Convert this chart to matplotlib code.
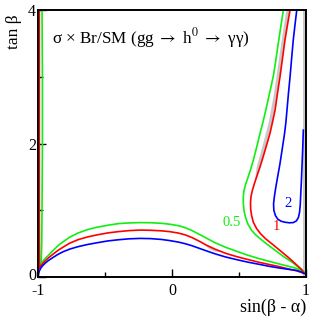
import matplotlib
matplotlib.use("Agg")
import matplotlib.pyplot as plt
from matplotlib.transforms import ScaledTranslation

# contour lines of sigma x Br / SM, digitised as (sin(beta-alpha), tan beta)
# 0.5 contour: down the left edge, across the bottom, back up on the right
green_x = [-0.970, -0.967, -0.967, -0.970, -0.972, -0.975, -0.977,
           -0.970, -0.960, -0.945, -0.920, -0.886, -0.850, -0.811, -0.760,
           -0.700, -0.630, -0.562, -0.480, -0.400, -0.320, -0.239, -0.160,
           -0.080, -0.015, 0.050, 0.100, 0.150, 0.200, 0.259, 0.320, 0.400,
           0.483, 0.560, 0.650, 0.731, 0.800, 0.870, 0.931, 0.975, 0.995,
           0.950, 0.890, 0.830, 0.770, 0.710, 0.660, 0.620, 0.590, 0.565,
           0.548, 0.537, 0.532, 0.532, 0.536, 0.548, 0.565, 0.585, 0.607,
           0.630, 0.657, 0.680, 0.700, 0.720, 0.740, 0.758, 0.775, 0.793,
           0.812, 0.831]
green_y = [4.0, 3.0, 2.0, 1.0, 0.5, 0.3, 0.18,
           0.21, 0.245, 0.28, 0.33, 0.40, 0.47, 0.53, 0.60,
           0.66, 0.71, 0.745, 0.775, 0.80, 0.81, 0.815, 0.813,
           0.805, 0.79, 0.768, 0.738, 0.695, 0.643, 0.58, 0.515, 0.445,
           0.385, 0.33, 0.275, 0.232, 0.195, 0.16, 0.128, 0.09, 0.06,
           0.14, 0.23, 0.31, 0.40, 0.49, 0.57, 0.64, 0.71, 0.80,
           0.90, 1.00, 1.10, 1.20, 1.28, 1.38, 1.48, 1.60, 1.75,
           1.93, 2.15, 2.33, 2.50, 2.68, 2.86, 3.03, 3.25, 3.50,
           3.75, 4.0]

# 1 contour
red_x = [-0.990, -0.990, -0.989, -0.988,
         -0.980, -0.965, -0.945, -0.920, -0.886, -0.850, -0.811, -0.760,
         -0.700, -0.630, -0.562, -0.480, -0.400, -0.320, -0.239, -0.160,
         -0.080, -0.015, 0.050, 0.100, 0.150, 0.200, 0.259, 0.320, 0.400,
         0.483, 0.560, 0.650, 0.731, 0.800, 0.870, 0.931, 0.965, 0.985,
         0.968, 0.920, 0.870, 0.810, 0.756, 0.700, 0.660, 0.630, 0.607,
         0.594, 0.587, 0.586, 0.590, 0.600, 0.615, 0.635, 0.657, 0.680,
         0.705, 0.731, 0.750, 0.769, 0.787, 0.806, 0.825, 0.843, 0.862,
         0.881]
red_y = [4.0, 1.0, 0.3, 0.13,
         0.16, 0.20, 0.245, 0.29, 0.345, 0.40, 0.45, 0.51,
         0.56, 0.60, 0.63, 0.66, 0.68, 0.695, 0.703, 0.70,
         0.692, 0.679, 0.657, 0.630, 0.590, 0.540, 0.475, 0.418, 0.355,
         0.305, 0.265, 0.22, 0.185, 0.155, 0.12, 0.092, 0.07, 0.05,
         0.11, 0.20, 0.29, 0.39, 0.48, 0.57, 0.65, 0.73, 0.82,
         0.92, 1.02, 1.12, 1.21, 1.30, 1.40, 1.52, 1.65, 1.80,
         1.97, 2.15, 2.32, 2.50, 2.75, 3.0, 3.28, 3.55, 3.78,
         4.0]

# 2 contour: lower arc and closed-off loop at upper right
blue_low_x = [-1.0, -0.996, -0.990, -0.980, -0.965, -0.945, -0.920, -0.886,
              -0.850, -0.811, -0.760, -0.700, -0.630, -0.562, -0.480, -0.400,
              -0.320, -0.239, -0.160, -0.080, -0.015, 0.050, 0.100, 0.150,
              0.200, 0.259, 0.320, 0.400, 0.483, 0.560, 0.650, 0.731, 0.800,
              0.870, 0.931, 0.965, 0.993]
blue_low_y = [0.0, 0.05, 0.09, 0.13, 0.17, 0.21, 0.25, 0.295,
              0.34, 0.38, 0.42, 0.455, 0.487, 0.512, 0.54, 0.558,
              0.572, 0.578, 0.575, 0.563, 0.545, 0.522, 0.498, 0.468,
              0.432, 0.39, 0.348, 0.30, 0.26, 0.225, 0.19, 0.158, 0.135,
              0.115, 0.098, 0.075, 0.05]

blue_loop_x = [0.931, 0.918, 0.905, 0.893, 0.881, 0.869, 0.858, 0.850, 0.840,
               0.825, 0.806, 0.790, 0.776, 0.765, 0.758, 0.760, 0.772, 0.790,
               0.815, 0.845, 0.875, 0.905, 0.928, 0.943, 0.952, 0.957, 0.961,
               0.966, 0.971, 0.976, 0.980]
blue_loop_y = [4.0, 3.78, 3.55, 3.28, 3.0, 2.75, 2.5, 2.32, 2.15,
               1.95, 1.70, 1.52, 1.36, 1.22, 1.10, 1.00, 0.92, 0.865,
               0.835, 0.82, 0.812, 0.815, 0.84, 0.89, 0.97, 1.08, 1.25,
               1.45, 1.70, 1.95, 2.20]

# grey band next to the red line, upper right
band_y = [1.45, 1.65, 1.97, 2.32, 2.75, 3.28, 3.78, 4.0]
band_left = [0.615, 0.628, 0.672, 0.718, 0.757, 0.795, 0.832, 0.849]
band_right = [0.618, 0.650, 0.697, 0.743, 0.781, 0.819, 0.856, 0.873]

# small grey sliver under the red arc
sliver_x = [0.24, 0.28, 0.32, 0.36]
sliver_top = [0.490, 0.455, 0.415, 0.385]
sliver_bot = [0.485, 0.420, 0.385, 0.381]

levels = ["0.5", "1", "2"]
label_pos = [(0.444, 0.81), (0.781, 0.75), (0.868, 1.10)]

GREEN = "#11ee11"
RED = "#ff0000"
BLUE = "#0000ff"
GREY = "#c8c8c8"

plt.rcParams["font.family"] = ["Liberation Serif", "DejaVu Serif"]
plt.rcParams["mathtext.fontset"] = "stix"
plt.rcParams["axes.unicode_minus"] = False

fig = plt.figure(figsize=(3.15, 3.16), dpi=100)
ax = fig.add_axes([38 / 315, 39 / 316, 268 / 315, 267 / 316])

# grey strips along the edges
ax.fill_betweenx([0, 4], -1.0, -0.99, color=GREY, lw=0)
ax.fill_betweenx([0, 4], 0.976, 1.0, color=GREY, lw=0)
ax.fill_betweenx(band_y, band_left, band_right, color=GREY, lw=0)
ax.fill_between(sliver_x, sliver_bot, sliver_top, color=GREY, lw=0)

lw = 1.2
ax.plot(green_x, green_y, color=GREEN, lw=lw)
ax.plot(red_x, red_y, color=RED, lw=lw)
ax.plot(blue_low_x, blue_low_y, color=BLUE, lw=lw)
ax.plot(blue_loop_x, blue_loop_y, color=BLUE, lw=lw)

for lab, (lx, ly), c in zip(levels, label_pos, [GREEN, RED, BLUE]):
    ax.text(lx, ly, lab, color=c, fontsize=10.5, ha="center", va="center")

ax.text(0.052, 0.875,
        r"σ × Br/SM (gg $\rightarrow$ h$^{0}$ $\rightarrow$ γγ)",
        transform=ax.transAxes, fontsize=12.3, ha="left", va="baseline")

ax.set_xlim(-1, 1)
ax.set_ylim(0, 4)
ax.set_xticks([-1, 0, 1])
ax.set_xticks([-0.5, 0.5], minor=True)
ax.set_yticks([0, 2, 4])
ax.set_yticks([1, 3], minor=True)
ax.tick_params(which="both", direction="in", top=False, right=False, labelsize=11.5)
ax.tick_params(which="major", length=6, width=1.0)
ax.tick_params(which="minor", length=3.5, width=1.0)
ax.tick_params(axis="y", pad=1.5)
ax.tick_params(axis="x", pad=4)
for s in ax.spines.values():
    s.set_linewidth(1.4)

# lift the "0" on the y axis a touch so it clears the "-1" below it
zero_lbl = ax.yaxis.get_major_ticks()[0].label1
zero_lbl.set_transform(zero_lbl.get_transform()
                       + ScaledTranslation(0, 2.5 / 72, fig.dpi_scale_trans))

ax.set_ylabel("tan β", fontsize=12.5, loc="top", labelpad=4)
ax.yaxis.label.set_y(0.985)
ax.set_xlabel("sin(β - α)", fontsize=13, loc="right", labelpad=0)

fig.savefig("out.png", dpi=100)
